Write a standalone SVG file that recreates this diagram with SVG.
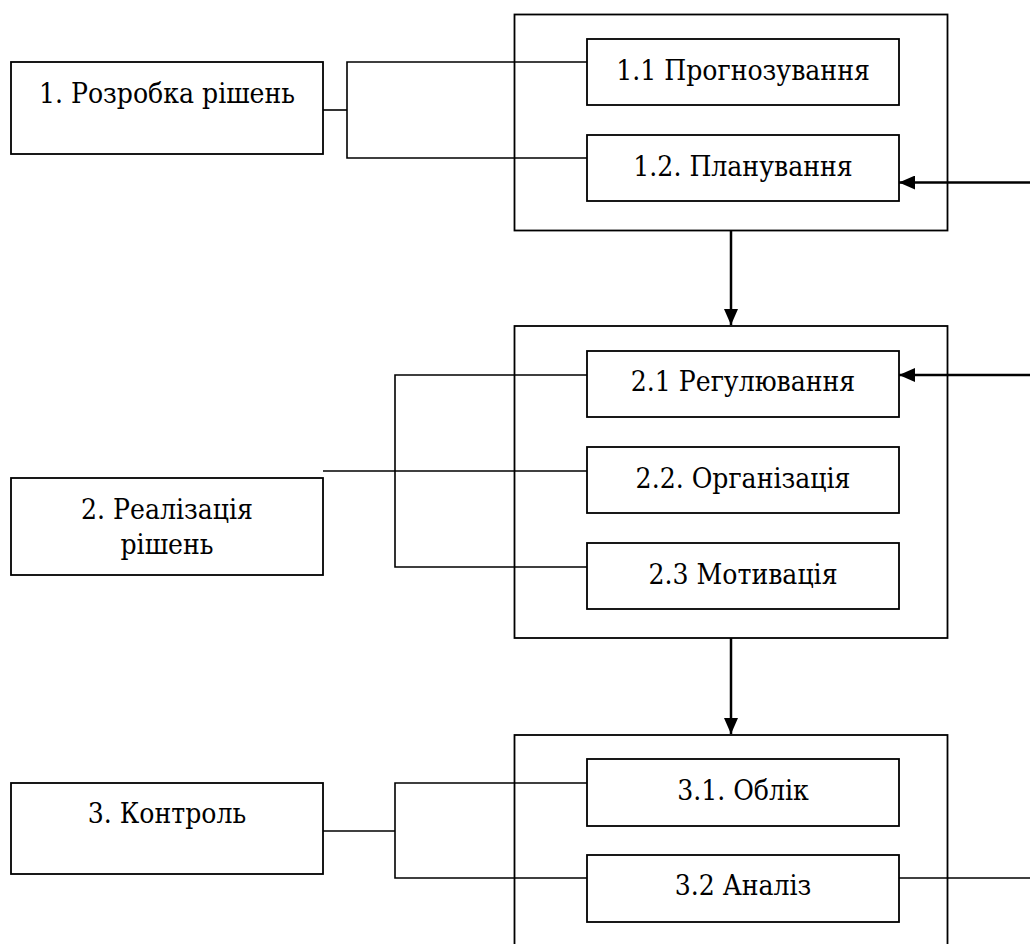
<svg xmlns="http://www.w3.org/2000/svg" width="1030" height="944" viewBox="0 0 1030 944">
<style>
.box{fill:#fff;stroke:#000;stroke-width:1.8}
.outer{fill:none;stroke:#000;stroke-width:1.8}
.lbl{font-family:'DejaVu Serif Condensed','DejaVu Serif',serif;font-stretch:condensed;font-size:28px;fill:#000;text-anchor:middle}
.con{fill:none;stroke:#000;stroke-width:1.6}
.arr{fill:none;stroke:#000;stroke-width:2.5}
</style>
<defs>
<marker id="ah" viewBox="0 0 16 14" refX="16" refY="7" markerWidth="16" markerHeight="14" markerUnits="userSpaceOnUse" orient="auto">
<path d="M0,0 L16,7 L0,14 Z" fill="#000"/>
</marker>
</defs>
<rect x="0" y="0" width="1030" height="944" fill="#fff"/>
<g id="outer1"><rect class="outer" x="514.5" y="14.5" width="433" height="216"/></g>
<g id="outer2"><rect class="outer" x="514.5" y="326" width="433" height="312"/></g>
<g id="outer3"><rect class="outer" x="514.5" y="735" width="433" height="240"/></g>
<g id="connectors">
<polyline class="con" points="323,110 347,110"/>
<polyline class="con" points="587,62 347,62 347,158 587,158"/>
<polyline class="con" points="587,375 395,375 395,567 587,567"/>
<polyline class="con" points="323,471 587,471"/>
<polyline class="con" points="323,831 395,831"/>
<polyline class="con" points="587,783 395,783 395,878 587,878"/>
<polyline class="con" points="899,878 1030,878"/>
<line class="arr" x1="1030" y1="182.5" x2="899" y2="182.5" marker-end="url(#ah)"/>
<line class="arr" x1="1030" y1="375" x2="899" y2="375" marker-end="url(#ah)"/>
<line class="arr" x1="731" y1="230.5" x2="731" y2="325" marker-end="url(#ah)"/>
<line class="arr" x1="731" y1="638" x2="731" y2="734" marker-end="url(#ah)"/>
</g>
<g id="n1"><rect class="box" x="11" y="62" width="312" height="92"/><text class="lbl" x="167" y="103">1. Розробка рішень</text></g>
<g id="n11"><rect class="box" x="587" y="39" width="312" height="66"/><text class="lbl" x="743" y="80">1.1 Прогнозування</text></g>
<g id="n12"><rect class="box" x="587" y="135" width="312" height="66"/><text class="lbl" x="743" y="176">1.2. Планування</text></g>
<g id="n2"><rect class="box" x="11" y="478" width="312" height="97"/><text class="lbl" x="167" y="519">2. Реалізація</text><text class="lbl" x="167" y="554">рішень</text></g>
<g id="n21"><rect class="box" x="587" y="351" width="312" height="66"/><text class="lbl" x="743" y="391">2.1 Регулювання</text></g>
<g id="n22"><rect class="box" x="587" y="447" width="312" height="66"/><text class="lbl" x="743" y="488">2.2. Організація</text></g>
<g id="n23"><rect class="box" x="587" y="543" width="312" height="66"/><text class="lbl" x="743" y="584">2.3 Мотивація</text></g>
<g id="n3"><rect class="box" x="11" y="783" width="312" height="91"/><text class="lbl" x="167" y="823">3. Контроль</text></g>
<g id="n31"><rect class="box" x="587" y="759" width="312" height="67"/><text class="lbl" x="743" y="800">3.1. Облік</text></g>
<g id="n32"><rect class="box" x="587" y="855" width="312" height="67"/><text class="lbl" x="743" y="895">3.2 Аналіз</text></g>
</svg>
